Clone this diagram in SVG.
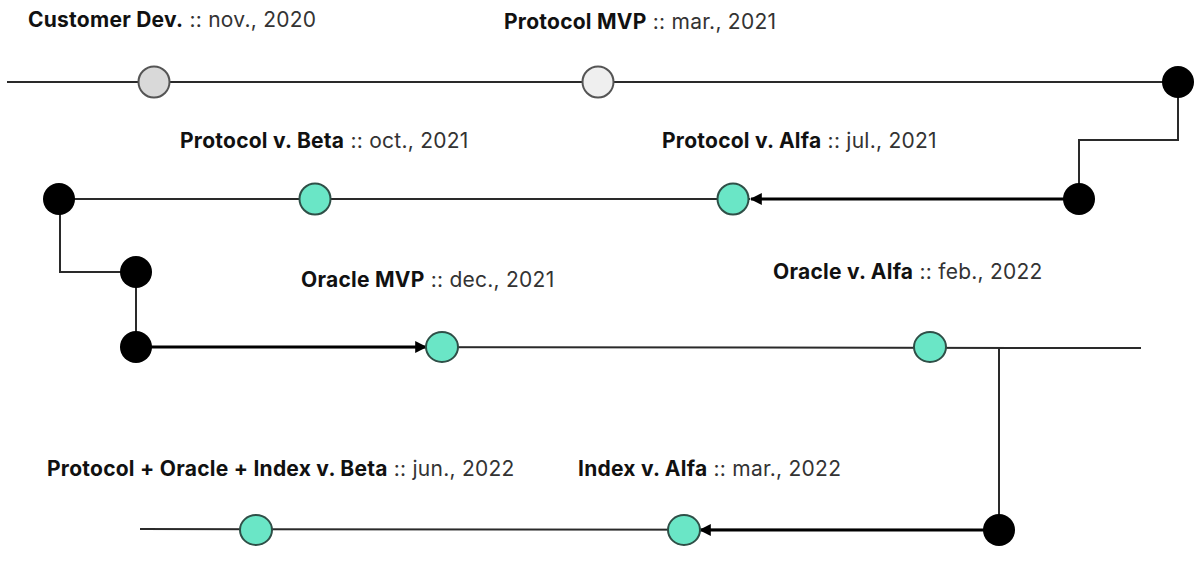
<svg xmlns="http://www.w3.org/2000/svg" width="1204" height="570" viewBox="0 0 1204 570">
<defs>
<style>
.lbl{font-family:Inter,"Liberation Sans",sans-serif;font-size:21px;letter-spacing:0.25px;fill:#333}
.lbl tspan.b{font-weight:bold;fill:#111}
.ln{stroke:#2a2a2a;stroke-width:2;fill:none}
.ar{stroke:#000;stroke-width:3;fill:none}
.grn{fill:#6ae6c6;stroke:#2f4f47;stroke-width:2}
.dot{fill:#000}
</style>
<marker id="ah" viewBox="0 0 10 10" refX="9" refY="5" markerWidth="4" markerHeight="4" orient="auto" markerUnits="strokeWidth">
<path d="M0,0 L10,5 L0,10 z" fill="#000"/>
</marker>
</defs>
<rect width="1204" height="570" fill="#fff"/>
<g id="connectors">
<line class="ln" x1="7" y1="82" x2="1178" y2="82"/>
<path class="ln" d="M1178,82 V140 H1079 V199"/>
<line class="ln" x1="60" y1="199" x2="750" y2="199"/>
<line class="ar" x1="1079" y1="199" x2="751" y2="199" marker-end="url(#ah)"/>
<path class="ln" d="M60,199 V272 H136 V347"/>
<line class="ln" x1="136" y1="347" x2="1141" y2="348"/>
<line class="ar" x1="136" y1="347" x2="426" y2="347" marker-end="url(#ah)"/>
<line class="ln" x1="999" y1="348" x2="999" y2="530"/>
<line class="ln" x1="140" y1="529" x2="999" y2="530"/>
<line class="ar" x1="999" y1="530" x2="700" y2="530" marker-end="url(#ah)"/>
</g>
<g id="customer-dev">
<circle cx="154" cy="82" r="15.5" fill="#d9d9d9" stroke="#555" stroke-width="2"/>
<text class="lbl" x="28" y="27"><tspan class="b">Customer Dev.</tspan> :: nov., 2020</text>
</g>
<g id="protocol-mvp">
<circle cx="598" cy="82" r="15.5" fill="#efefef" stroke="#555" stroke-width="2"/>
<text class="lbl" x="504" y="29"><tspan class="b">Protocol MVP</tspan> :: mar., 2021</text>
</g>
<g id="junction-1"><circle class="dot" cx="1178" cy="82" r="16"/></g>
<g id="junction-2"><circle class="dot" cx="1079" cy="199" r="16"/></g>
<g id="protocol-alfa">
<circle class="grn" cx="733" cy="199" r="15.5"/>
<text class="lbl" x="662" y="148"><tspan class="b">Protocol v. Alfa</tspan> :: jul., 2021</text>
</g>
<g id="protocol-beta">
<circle class="grn" cx="315" cy="199" r="15.5"/>
<text class="lbl" x="180" y="148"><tspan class="b">Protocol v. Beta</tspan> :: oct., 2021</text>
</g>
<g id="junction-3"><circle class="dot" cx="59" cy="199" r="16"/></g>
<g id="junction-4"><circle class="dot" cx="136" cy="272" r="16"/></g>
<g id="junction-5"><circle class="dot" cx="136" cy="347" r="16"/></g>
<g id="oracle-mvp">
<ellipse class="grn" cx="442" cy="347" rx="16" ry="15"/>
<text class="lbl" x="301" y="287"><tspan class="b">Oracle MVP</tspan> :: dec., 2021</text>
</g>
<g id="oracle-alfa">
<ellipse class="grn" cx="930" cy="347" rx="16" ry="15"/>
<text class="lbl" x="773" y="279"><tspan class="b">Oracle v. Alfa</tspan> :: feb., 2022</text>
</g>
<g id="junction-6"><circle class="dot" cx="999" cy="530" r="16"/></g>
<g id="index-alfa">
<ellipse class="grn" cx="684" cy="530" rx="16" ry="15"/>
<text class="lbl" x="578" y="476"><tspan class="b">Index v. Alfa</tspan> :: mar., 2022</text>
</g>
<g id="full-beta">
<ellipse class="grn" cx="256" cy="530" rx="16" ry="15"/>
<text class="lbl" x="47" y="476"><tspan class="b">Protocol + Oracle + Index v. Beta</tspan> :: jun., 2022</text>
</g>
</svg>
